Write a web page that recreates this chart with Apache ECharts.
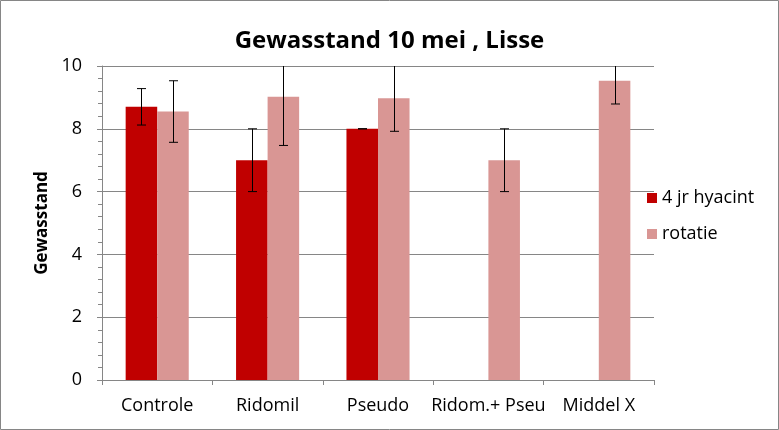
<!DOCTYPE html>
<html><head><meta charset="utf-8">
<script src="https://cdn.jsdelivr.net/npm/echarts@6/dist/echarts.min.js"></script>
<style>html,body{margin:0;padding:0;background:#fff}#c{width:779px;height:430px}</style>
</head><body><div id="c"></div>
<script>
const categories = ['Controle', 'Ridomil', 'Pseudo', 'Ridom.+ Pseu', 'Middel X'];
const hyacint = [8.7, 7.0, 8.0, null, null];
const hyacintErr = [0.58, 1.0, 0.0, null, null];
const rotatie = [8.55, 9.02, 8.97, 7.0, 9.53];
const rotatieErr = [0.98, 1.55, 1.05, 1.0, 0.74];
const yTicks = {min: 0, max: 10, interval: 2};

const FONT = '"Open Sans", "Liberation Sans", sans-serif';
const chart = echarts.init(document.getElementById('c'), null, {renderer: 'canvas'});

function errSeries(vals, errs, side) {
  const data = [];
  vals.forEach((v, i) => { if (v != null && errs[i] != null) data.push([i, v, errs[i]]); });
  return {
    type: 'custom', clip: true, z: 5, silent: true, data: data,
    renderItem: function (params, api) {
      const x = api.value(0), v = api.value(1), e = api.value(2);
      const band = api.size([1, 0])[0];
      const off = side * band / 3.5 / 2;
      const top = api.coord([x, v + e]);
      const bot = api.coord([x, v - e]);
      const cx = Math.round(top[0] + off) + 0.5;
      const cap = 4.5;
      const st = {stroke: '#000', lineWidth: 1};
      return {type: 'group', children: [
        {type: 'line', shape: {x1: cx, y1: top[1], x2: cx, y2: bot[1]}, style: st},
        {type: 'line', shape: {x1: cx - cap, y1: top[1], x2: cx + cap, y2: top[1]}, style: st},
        {type: 'line', shape: {x1: cx - cap, y1: bot[1], x2: cx + cap, y2: bot[1]}, style: st}
      ]};
    }
  };
}

chart.setOption({
  animation: false,
  backgroundColor: '#fff',
  title: {
    text: 'Gewasstand 10 mei , Lisse', left: 'center', top: 24,
    textStyle: {fontFamily: FONT, fontSize: 24, fontWeight: 'bold', color: '#000'}
  },
  graphic: [{type: 'rect', shape: {x: 0.5, y: 0.5, width: 778, height: 429},
    style: {fill: null, stroke: '#868686', lineWidth: 1}, silent: true}],
  legend: {
    orient: 'vertical', left: 642, top: 184, itemGap: 18,
    itemWidth: 10, itemHeight: 10, icon: 'rect',
    textStyle: {fontFamily: FONT, fontSize: 18, color: '#000', padding: [0, 0, 0, 0]},
    data: ['4 jr hyacint', 'rotatie']
  },
  grid: {left: 102, right: 125, top: 66, bottom: 50, containLabel: false},
  xAxis: {
    type: 'category', data: categories,
    axisLine: {lineStyle: {color: '#868686'}},
    axisTick: {show: true, length: 5, lineStyle: {color: '#868686'}},
    axisLabel: {interval: 0, fontFamily: FONT, fontSize: 18, color: '#000', margin: 17}
  },
  yAxis: {
    type: 'value', min: yTicks.min, max: yTicks.max, interval: yTicks.interval,
    name: 'Gewasstand', nameLocation: 'middle', nameGap: 50,
    nameTextStyle: {fontFamily: FONT, fontSize: 17, fontWeight: 'bold', color: '#000'},
    axisLine: {show: true, lineStyle: {color: '#868686'}},
    axisTick: {show: true, length: 5, lineStyle: {color: '#868686'}},
    minorTick: {show: true, splitNumber: 5, length: 4, lineStyle: {color: '#868686'}},
    splitLine: {show: true, lineStyle: {color: '#868686', width: 1}},
    axisLabel: {fontFamily: FONT, fontSize: 18, color: '#000', margin: 20}
  },
  series: [
    {name: '4 jr hyacint', type: 'bar', data: hyacint, itemStyle: {color: '#C00000'},
      barGap: '0%', barCategoryGap: '42.86%'},
    {name: 'rotatie', type: 'bar', data: rotatie, itemStyle: {color: '#D99694'},
      barGap: '0%', barCategoryGap: '42.86%'},
    errSeries(hyacint, hyacintErr, -1),
    errSeries(rotatie, rotatieErr, 1)
  ]
});
</script></body></html>
